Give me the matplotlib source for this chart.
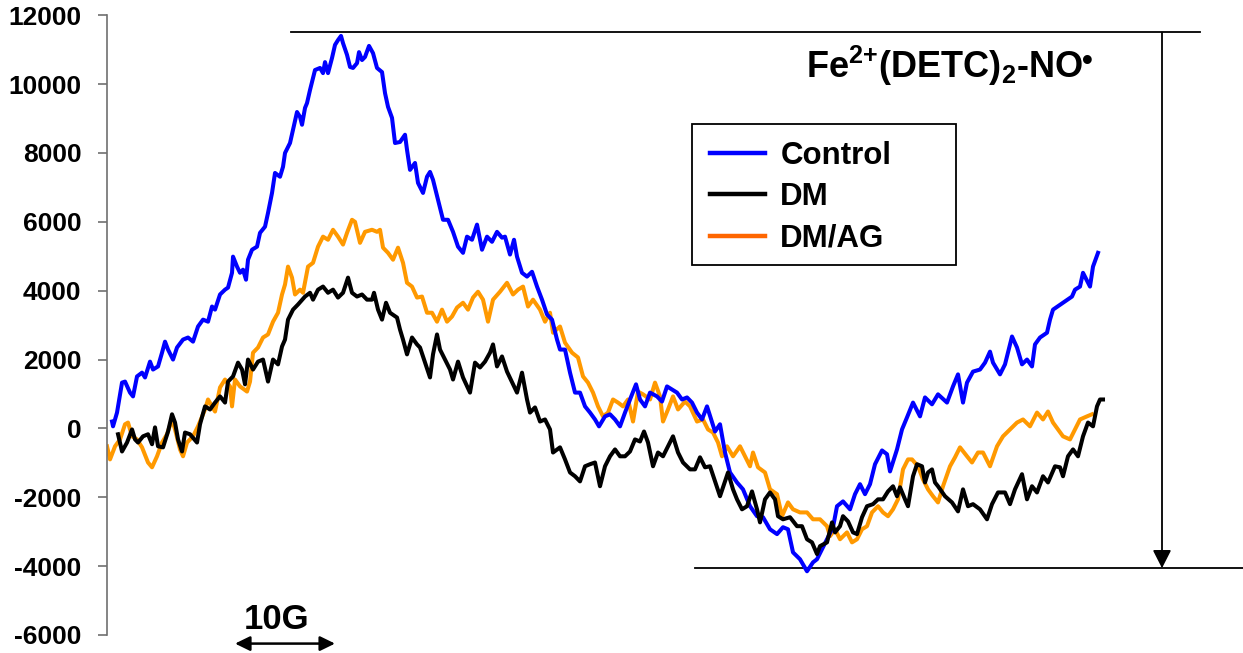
import matplotlib
matplotlib.use('Agg')
import matplotlib.pyplot as plt
from matplotlib.lines import Line2D
from matplotlib.patches import Rectangle

plt.rcParams['font.family'] = ['Liberation Sans', 'DejaVu Sans']
plt.rcParams['font.weight'] = 'bold'
plt.rcParams['axes.unicode_minus'] = False
plt.rcParams['mathtext.fontset'] = 'custom'
plt.rcParams['mathtext.rm'] = 'Liberation Sans:bold'
plt.rcParams['mathtext.bf'] = 'Liberation Sans:bold'
plt.rcParams['mathtext.default'] = 'rm'

# field offset (G) and EPR signal for each spectrum
field_control = [0.5, 0.6, 1.0, 1.5, 1.8, 2.3, 2.6, 3.0, 3.5, 3.8, 4.3, 4.6, 5.1, 5.5, 5.8, 6.1, 6.6, 7.0, 7.6, 8.1,
                 8.6, 9.1, 9.6, 10.1, 10.5, 10.8, 11.3, 11.8, 12.1, 12.5, 12.6, 13.0, 13.3, 13.6, 13.9, 14.1, 14.5, 15.0, 15.3, 15.8,
                 16.1, 16.5, 16.8, 17.3, 17.6, 17.8, 18.3, 18.6, 19.0, 19.3, 19.5, 19.8, 20.0, 20.3, 20.8, 21.3, 21.6, 21.8, 22.1, 22.5,
                 22.8, 23.1, 23.4, 23.6, 24.0, 24.3, 24.6, 25.0, 25.2, 25.5, 25.8, 26.2, 26.6, 27.0, 27.5, 27.8, 28.1, 28.5, 28.8, 29.3,
                 29.8, 30.0, 30.3, 30.8, 31.1, 31.6, 32.0, 32.3, 32.6, 33.1, 33.6, 34.1, 34.6, 35.1, 35.6, 36.0, 36.5, 37.0, 37.5, 38.0,
                 38.5, 39.0, 39.5, 39.8, 40.3, 40.7, 41.0, 41.5, 42.0, 42.5, 43.0, 43.5, 44.0, 44.5, 45.0, 45.3, 45.8, 46.3, 46.8, 47.3,
                 47.8, 48.3, 48.8, 49.2, 49.8, 50.3, 50.8, 51.3, 51.8, 52.3, 52.9, 53.3, 53.8, 54.3, 55.0, 55.5, 56.0, 56.5, 57.0, 57.5,
                 58.0, 58.5, 59.0, 59.5, 60.0, 60.8, 61.3, 61.8, 62.3, 63.0, 63.6, 64.3, 65.0, 65.6, 66.3, 67.0, 67.6, 68.1, 68.6, 69.3,
                 70.0, 70.6, 71.0, 72.0, 72.6, 73.0, 73.6, 74.3, 74.8, 75.3, 75.8, 76.3, 76.8, 77.5, 78.0, 78.3, 79.0, 79.5, 80.0, 80.6,
                 81.3, 81.8, 82.5, 83.1, 84.0, 84.6, 85.1, 85.6, 86.0, 86.6, 87.3, 87.8, 88.3, 88.6, 89.3, 89.8, 90.5, 91.0, 91.5, 92.0,
                 92.5, 92.8, 93.3, 94.0, 94.3, 94.6, 95.6, 96.5, 96.8, 97.3, 97.6, 98.3, 98.6, 99.1]
control = [200, 60, 460, 1330, 1360, 1040, 930, 1510, 1620, 1480, 1940, 1710, 1800, 2200, 2520, 2290, 2000, 2350, 2580, 2640,
           2520, 2960, 3160, 3100, 3540, 3450, 3890, 4030, 4090, 4520, 4990, 4700, 4520, 4610, 4320, 4900, 5190, 5280, 5680, 5860,
           6260, 6840, 7420, 7310, 7600, 8000, 8290, 8670, 9190, 9050, 8820, 9310, 9450, 9830, 10410, 10470, 10320, 10640, 10320, 10760,
           11140, 11280, 11400, 11190, 10850, 10500, 10470, 10610, 10930, 10700, 10790, 11110, 10900, 10470, 10350, 9740, 9340, 9020, 8290, 8320,
           8530, 8090, 7510, 7710, 7130, 6840, 7310, 7450, 7220, 6640, 6060, 6060, 5710, 5280, 5100, 5570, 5480, 5920, 5190, 5570,
           5420, 5710, 5540, 5570, 5050, 5480, 4990, 4520, 4410, 4550, 4120, 3740, 3310, 3160, 2580, 2290, 2290, 1620, 1040, 1040,
           640, 460, 260, 60, 350, 410, 260, 60, 460, 840, 1280, 840, 640, 1040, 930, 780, 1220, 1130, 1040, 840,
           900, 750, 460, 260, 640, -90, 120, -700, -1280, -1570, -1770, -2260, -2550, -2580, -2930, -3070, -2870, -2930, -3600, -3800,
           -4150, -3890, -3800, -3220, -2870, -2260, -2120, -2350, -1910, -1620, -1910, -1620, -1040, -640, -750, -1250, -610, -30, 320, 750,
           350, 900, 700, 990, 750, 1220, 1570, 750, 1330, 1650, 1710, 1910, 2230, 1910, 1570, 1860, 2670, 2350, 1860, 2000,
           1800, 2440, 2640, 2780, 3160, 3450, 3650, 3830, 4030, 4120, 4520, 4120, 4700, 5100]

field_dm = [1.1, 1.5, 2.0, 2.5, 2.8, 3.1, 3.6, 4.1, 4.5, 4.8, 5.1, 5.6, 6.1, 6.5, 6.8, 7.1, 7.5, 7.8, 8.3, 9.0,
            9.3, 9.8, 10.3, 10.8, 11.3, 11.8, 12.1, 12.6, 13.1, 13.5, 13.8, 14.1, 14.6, 15.1, 15.6, 16.1, 16.6, 17.1, 17.5, 17.8,
            18.1, 18.6, 19.1, 19.8, 20.3, 20.6, 21.1, 21.6, 22.1, 22.6, 23.1, 23.6, 24.1, 24.5, 25.0, 25.5, 26.0, 26.5, 26.7, 27.1,
            27.5, 27.9, 28.3, 29.0, 29.3, 29.6, 30.0, 30.5, 31.0, 31.3, 31.8, 32.3, 32.6, 33.0, 33.3, 33.8, 34.3, 34.6, 35.1, 35.6,
            36.3, 36.8, 37.3, 37.8, 38.3, 38.6, 39.0, 39.5, 40.0, 41.0, 41.5, 42.0, 42.3, 42.8, 43.3, 43.8, 44.3, 44.6, 45.3, 45.8,
            46.3, 46.8, 47.3, 47.8, 48.3, 48.8, 49.3, 49.8, 50.3, 50.8, 51.3, 51.8, 52.3, 52.8, 53.3, 53.7, 54.1, 54.6, 55.1, 55.6,
            56.1, 56.6, 57.1, 57.6, 58.3, 58.8, 59.3, 59.8, 60.3, 60.8, 61.3, 61.8, 62.1, 62.6, 63.0, 63.5, 64.0, 64.5, 65.0, 65.3,
            65.8, 66.3, 66.8, 67.1, 67.6, 68.3, 69.0, 69.5, 70.0, 70.5, 71.0, 71.3, 72.0, 72.5, 72.8, 73.3, 73.6, 74.1, 74.6, 75.0,
            75.5, 76.0, 76.6, 77.1, 77.6, 78.1, 78.6, 79.0, 79.3, 79.8, 80.1, 80.6, 81.0, 81.5, 81.8, 82.1, 82.5, 82.8, 83.1, 83.8,
            84.5, 85.1, 85.6, 86.1, 86.6, 87.3, 88.0, 88.5, 89.1, 89.8, 90.3, 90.8, 91.5, 92.0, 92.5, 93.0, 93.6, 94.1, 94.8, 95.3,
            95.6, 96.1, 96.6, 97.1, 97.6, 98.1, 98.6, 99.0, 99.3, 99.6]
dm = [-170, -670, -410, -30, -320, -410, -230, -170, -460, 30, -520, -550, -90, 410, 170, -320, -670, -120, -170, -410,
      120, 640, 550, 750, 930, 750, 1360, 1510, 1910, 1710, 1280, 2000, 1710, 1940, 2000, 1360, 2000, 1860, 2380, 2580,
      3160, 3450, 3600, 3830, 3940, 3740, 4030, 4120, 3940, 4030, 3800, 3940, 4380, 3940, 3830, 3890, 3740, 3740, 3940, 3450,
      3160, 3650, 3360, 3220, 2870, 2580, 2150, 2640, 2440, 2350, 1910, 1480, 2150, 2730, 2290, 2000, 1710, 1420, 1940, 1480,
      1040, 1910, 1770, 1940, 2200, 2440, 1800, 2090, 1650, 1040, 1620, 840, 460, 610, 200, 260, -30, -700, -550, -900,
      -1280, -1390, -1540, -1100, -1040, -990, -1680, -1100, -810, -610, -810, -810, -670, -320, -380, -90, -410, -1100, -700, -810,
      -520, -230, -700, -990, -1190, -1190, -840, -1130, -1100, -1540, -1970, -1540, -1280, -1770, -2060, -2350, -2260, -1830, -2350, -2730,
      -2060, -1860, -2060, -2550, -2640, -2580, -2840, -2840, -3220, -3310, -3650, -3420, -3310, -2730, -3020, -2840, -2550, -2700, -3020, -3070,
      -2580, -2260, -2200, -2060, -2060, -1830, -1680, -1970, -1710, -2060, -2260, -1390, -1040, -1100, -1570, -1280, -1190, -1570, -1680, -1970,
      -2150, -2410, -1770, -2260, -2200, -2350, -2640, -2200, -1860, -1860, -2200, -1770, -1330, -2060, -1680, -1860, -1390, -1570, -1100, -1130,
      -1390, -810, -610, -810, -230, 170, 60, 640, 840, 840]

field_dmag = [0.0, 0.3, 0.8, 1.3, 1.8, 2.1, 2.5, 3.0, 3.5, 4.1, 4.5, 5.0, 5.5, 6.0, 6.5, 6.8, 7.3, 7.6, 8.0, 8.6,
              9.1, 9.8, 10.1, 10.8, 11.3, 11.8, 12.3, 12.5, 12.8, 13.3, 14.0, 14.3, 14.6, 15.1, 15.6, 16.1, 16.6, 17.1, 17.5, 17.8,
              18.1, 18.5, 18.8, 19.3, 19.6, 20.1, 20.6, 21.1, 21.6, 22.1, 22.6, 23.1, 23.6, 24.0, 24.5, 24.8, 25.3, 25.8, 26.5, 27.0,
              27.3, 27.6, 28.1, 28.6, 29.1, 29.6, 30.0, 30.5, 31.0, 31.5, 32.0, 32.5, 33.0, 33.5, 34.0, 34.5, 35.0, 35.6, 36.1, 36.6,
              37.1, 37.6, 38.1, 38.6, 39.3, 40.0, 40.6, 41.1, 41.6, 42.1, 42.6, 43.3, 43.8, 44.3, 44.6, 45.3, 45.8, 46.5, 47.1, 47.6,
              48.1, 48.6, 49.1, 49.6, 50.1, 50.6, 51.1, 51.6, 52.1, 52.6, 53.1, 53.6, 54.3, 54.8, 55.3, 55.6, 56.1, 56.6, 57.1, 57.8,
              58.3, 59.0, 59.6, 60.1, 60.6, 61.1, 61.5, 62.0, 62.6, 63.3, 64.3, 64.6, 65.1, 65.8, 66.3, 67.0, 67.5, 68.1, 68.6, 69.3,
              70.0, 70.6, 71.3, 72.0, 72.3, 72.8, 73.3, 74.0, 74.5, 75.0, 75.5, 76.0, 76.5, 77.1, 77.6, 78.1, 78.6, 79.1, 79.6, 80.1,
              80.5, 81.1, 81.6, 82.1, 82.6, 83.1, 83.6, 84.3, 84.8, 85.3, 86.0, 86.5, 87.1, 87.6, 88.3, 89.0, 89.6, 90.3, 91.0, 91.6,
              92.3, 93.0, 93.6, 94.1, 94.6, 95.1, 95.6, 96.3, 96.8, 97.3, 98.0, 98.5]
dmag = [-520, -900, -520, -320, 120, 170, -230, -320, -550, -990, -1130, -810, -410, -170, 260, -30, -610, -810, -410, -230,
        60, 550, 840, 490, 1190, 1420, 1220, 640, 1420, 1220, 1070, 1360, 2200, 2350, 2640, 2730, 3100, 3360, 3890, 4180,
        4700, 4380, 3890, 4030, 3940, 4700, 4810, 5280, 5570, 5480, 5770, 5570, 5340, 5680, 6060, 6000, 5390, 5710, 5770, 5710,
        5770, 5250, 5100, 4900, 5250, 4810, 4230, 4120, 3800, 3830, 3360, 3360, 3100, 3450, 3100, 3250, 3510, 3650, 3450, 3800,
        3970, 3740, 3100, 3740, 3970, 4230, 3890, 4030, 4120, 3540, 3740, 3450, 3100, 3360, 2780, 2960, 2490, 2200, 2060, 1510,
        1330, 1040, 640, 350, 460, 840, 750, 640, 840, 200, 1070, 990, 840, 1330, 930, 200, 550, 930, 550, 780,
        640, 200, 260, -30, -120, -410, -810, -520, -810, -520, -1100, -700, -1130, -1280, -1770, -1910, -2550, -2150, -2350, -2440,
        -2440, -2640, -2640, -2840, -3130, -2930, -3220, -3020, -3310, -3220, -2930, -2840, -2440, -2260, -2440, -2550, -2350, -2060, -1190, -900,
        -900, -1100, -1480, -1770, -1970, -2150, -1680, -1100, -840, -550, -810, -990, -700, -700, -1100, -520, -230, -30, 170, 260,
        60, 460, 260, 490, 170, -30, -230, -320, -30, 260, 350, 410]

labels = ['Control', 'DM', 'DM/AG']
line_colors = ['#0000FF', '#000000', '#FF9900']
legend_colors = ['#0000FF', '#000000', '#FF6600']

peak_level = 11500
trough_level = -4060

fig = plt.figure(figsize=(12.43, 6.53), dpi=100)
ax = fig.add_axes([0.0861, 0.0276, 0.9139, 0.949])

ax.plot(field_dmag, dmag, color=line_colors[2], lw=2.9, zorder=2)
ax.plot(field_control, control, color=line_colors[0], lw=2.9, zorder=3)
ax.plot(field_dm, dm, color=line_colors[1], lw=2.9, zorder=4)

ax.set_xlim(0, 113.6)
ax.set_ylim(-6000, 12000)
ax.set_yticks(range(-6000, 12001, 2000))
ax.set_yticklabels([str(v) for v in range(-6000, 12001, 2000)])
ax.set_xticks([])
for s in ['top', 'right', 'bottom']:
    ax.spines[s].set_visible(False)
ax.spines['left'].set_color('#707070')
ax.spines['left'].set_linewidth(1.2)
ax.tick_params(axis='y', direction='out', length=6.5, width=1.2, color='#707070',
               pad=12, labelsize=19)
for t in ax.get_yticklabels():
    t.set_fontweight('bold')

# peak-to-trough marker
ax.plot([18.4, 109.3], [peak_level, peak_level], color='black', lw=1.3, clip_on=False)
ax.plot([58.8, 113.6], [trough_level, trough_level], color='black', lw=1.3, clip_on=False)
ax.annotate('', xy=(105.5, trough_level), xytext=(105.5, peak_level),
            arrowprops=dict(arrowstyle='-|>,head_length=0.55,head_width=0.28', color='black',
                            lw=1.3, shrinkA=0, shrinkB=0, mutation_scale=20))

# 10 G scale bar
ax.annotate('', xy=(12.8, -6250), xytext=(22.8, -6250), annotation_clip=False,
            arrowprops=dict(arrowstyle='<|-|>,head_length=0.45,head_width=0.22', color='black',
                            lw=1.8, shrinkA=0, shrinkB=0, mutation_scale=20))
ax.text(17.0, -5550, '10G', ha='center', va='center', fontsize=25, fontweight='bold')

fig.text(0.6484, 0.8806, r'Fe$^{2{+}}$(DETC)$_{2}$-NO', ha='left', va='baseline',
         fontsize=26, fontweight='bold')
fig.text(0.8705, 0.893, '•', ha='left', va='baseline', fontsize=22, fontweight='bold')

handles = [Line2D([], [], color=c, lw=3.2) for c in legend_colors]
ax.legend(handles, labels, loc='upper left', bbox_to_anchor=(0.5712, 0.784),
          bbox_transform=fig.transFigure, frameon=False, borderpad=0, borderaxespad=0,
          handlelength=1.75, handletextpad=0.5, labelspacing=0.36,
          prop={'size': 22.5, 'weight': 'bold'})
fig.patches.append(Rectangle((0.5567, 0.5942), 0.2124, 0.2159, transform=fig.transFigure,
                             fill=False, edgecolor='black', lw=1.3))

fig.savefig('out.png', dpi=100)
